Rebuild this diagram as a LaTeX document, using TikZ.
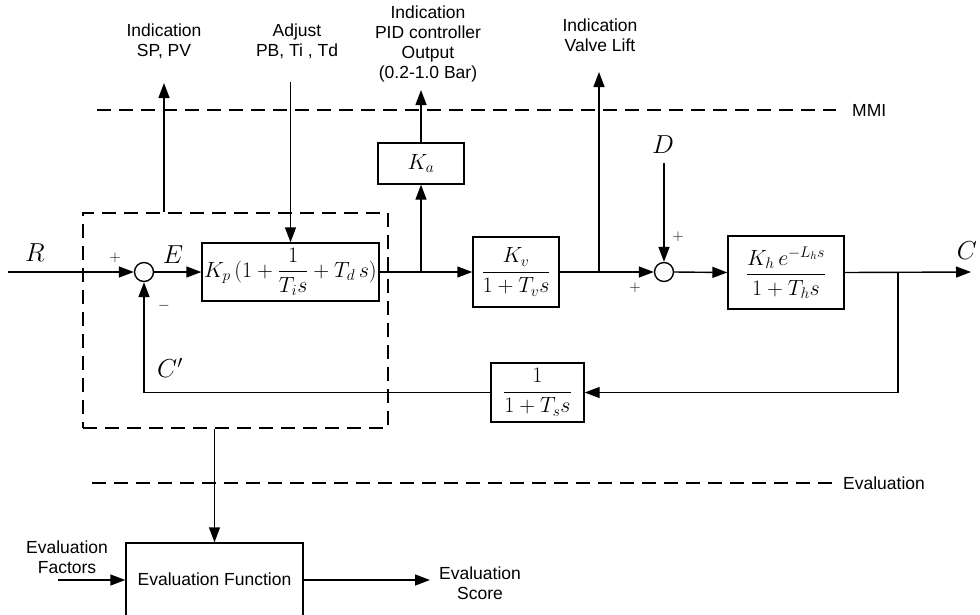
\RequirePackage{fix-cm}
\documentclass[tikz,border=0pt]{standalone}
\usepackage{amsmath}
\usepackage{fontspec}
\setmainfont{Liberation Sans}
\usepackage{tikz}
\usetikzlibrary{arrows.meta, positioning, calc}

\tikzset{
  blk/.style={draw, line width=1.4pt, inner sep=1pt, font=\fontsize{22}{26}\selectfont},
  sumj/.style={draw, circle, line width=1.4pt, minimum size=19pt, inner sep=0pt},
  sig/.style={line width=1.4pt},
  arr/.style={sig, -{Triangle[length=15pt,width=11pt]}},
  lbl/.style={font=\fontsize{17.5}{20}\selectfont, align=center, inner sep=0pt},
  var/.style={font=\fontsize{26}{30}\selectfont, inner sep=0pt},
  sgn/.style={font=\fontsize{15}{17}\selectfont, inner sep=0pt},
  sep/.style={line width=1.3pt, dash pattern=on 14pt off 8pt},
}

\begin{document}
\begin{tikzpicture}[x=1pt, y=-1pt]
\useasboundingbox (0,0) rectangle (980,614);
% Base nodes
\node (sum1) [sumj] at (144,272) {};
\node (pid) [blk, minimum width=177pt, minimum height=58pt] at (290.5,272) {$K_{p}\,(1+\dfrac{1}{T_{i}s}+T_{d}\,s)$};
\node (ka) [blk, minimum width=86pt, minimum height=41pt] at (421,163.5) {$K_{a}$};
\node (kv) [blk, minimum width=86pt, minimum height=70pt] at (516,272) {$\dfrac{K_{v}}{1+T_{v}s}$};
\node (sum2) [sumj] at (664,272) {};
\node (plant) [blk, minimum width=116pt, minimum height=73pt] at (786,272.5) {$\dfrac{K_{h}\,e^{-L_{h}s}}{1+T_{h}s}$};
\node (sens) [blk, minimum width=93pt, minimum height=59pt] at (537.5,392.5) {$\dfrac{1}{1+T_{s}s}$};
\node (ctrl) [draw, sep, minimum width=305pt, minimum height=215pt] at (235.5,320.5) {};
\node (evf) [blk, lbl, minimum width=177pt, minimum height=73pt] at (214.5,579.5) {Evaluation Function};

% Top and bottom texts
\node (spv) [lbl] at (164,41) {Indication\\SP, PV};
\node (adj) [lbl] at (297,41) {Adjust\\PB, Ti , Td};
\node (pidout) [lbl] at (428,44) {Indication\\PID controller\\Output\\(0.2-1.0 Bar)};
\node (valve) [lbl] at (600,35) {Indication\\Valve Lift};
\node (mmi) [lbl, anchor=west] at (852,110) {MMI};
\node (evl) [lbl, anchor=west] at (843,483) {Evaluation};
\node (fac) [lbl] at (67,557) {Evaluation\\Factors};
\node (score) [lbl] at (480,583) {Evaluation\\Score};

% Signals
\node (R) [var] at (35,253) {$R$};
\node (E) [var] at (173,255) {$E$};
\node (Cp) [var] at (170,368) {$C'$};
\node (D) [var] at (663,145) {$D$};
\node (C) [var] at (967,251) {$C$};
\node (p1) [sgn] at (115,258) {$+$};
\node (m1) [sgn] at (164,306) {$-$};
\node (p2) [sgn] at (678,237) {$+$};
\node (p3) [sgn] at (635,288) {$+$};

% Ends of connectors
\coordinate (rin) at (8,272);
\coordinate (ja) at (ka.south |- kv.west);
\coordinate (jv) at (599,272);
\coordinate (tap) at (898,272);
\coordinate (cout) at (971,272);
\coordinate (din) at (664,163);
\coordinate (spvtip) at (164,83);
\coordinate (adjtop) at (pid.north |- 0,82);
\coordinate (katip) at (421,90);
\coordinate (vtip) at (599,72);
\coordinate (facin) at (58,580);
\coordinate (scout) at (430,580);
\coordinate (mmiL) at (97,110);
\coordinate (mmiR) at (836,110);
\coordinate (evL) at (92,483);
\coordinate (evR) at (832,483);

% Level lines
\draw[sep] (mmiL) -- (mmiR);
\draw[sep] (evL) -- (evR);

% Arrows
\draw[arr] (rin) -- (sum1.west);
\draw[arr] (sum1.east) -- (pid.west);
\draw[arr] (pid.east) -- (kv.west);
\draw[arr] (ja) -- (ka.south);
\draw[arr] (ka.north) -- (katip);
\draw[arr] (kv.east) -- (sum2.west);
\draw[arr] (jv) -- (vtip);
\draw[arr] (din) -- (sum2.north);
\draw[arr] (sum2.east) -- (plant.west);
\draw[arr] (plant.east) -- (cout);
\draw[arr] (tap) |- (sens.east);
\draw[arr] (sens.west) -| (sum1.south);
\draw[arr] (ctrl.north -| spvtip) -- (spvtip);
\draw[arr] (adjtop) -- (pid.north);
\draw[arr] (ctrl.south -| evf.north) -- (evf.north);
\draw[arr] (facin) -- (evf.west |- facin);
\draw[arr] (evf.east |- scout) -- (scout);
\end{tikzpicture}
\end{document}
